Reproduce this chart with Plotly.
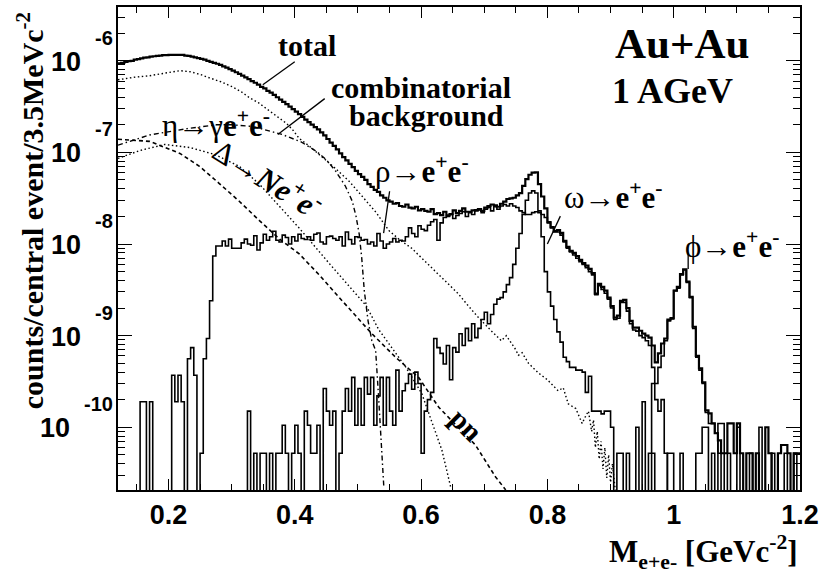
import plotly.graph_objects as go

# ---------------- data ----------------
bin_width = 0.005
mass_min, mass_max = 0.12, 1.2
log_min, log_max = -10.685, -5.413

total_start = 0.12
total = [
    9.4e-7, 9.5e-7, 9.7e-7, 9.9e-7, 1.0e-6, 1.03e-6, 1.04e-6, 1.06e-6, 1.08e-6, 1.09e-6,
    1.11e-6, 1.12e-6, 1.13e-6, 1.14e-6, 1.15e-6, 1.15e-6, 1.16e-6, 1.16e-6, 1.16e-6, 1.16e-6,
    1.16e-6, 1.14e-6, 1.13e-6, 1.11e-6, 1.09e-6, 1.07e-6, 1.05e-6, 1.03e-6, 1.0e-6, 9.75e-7,
    9.5e-7, 9.28e-7, 9.0e-7, 8.7e-7, 8.4e-7, 8.1e-7, 7.8e-7, 7.5e-7, 7.2e-7, 6.9e-7,
    6.6e-7, 6.3e-7, 6.0e-7, 5.76e-7, 5.5e-7, 5.2e-7, 5.0e-7, 4.7e-7, 4.5e-7, 4.25e-7,
    4.0e-7, 3.77e-7, 3.56e-7, 3.36e-7, 3.16e-7, 2.97e-7, 2.79e-7, 2.61e-7, 2.44e-7, 2.28e-7,
    2.14e-7, 2.01e-7, 1.89e-7, 1.78e-7, 1.65e-7, 1.53e-7, 1.4e-7, 1.28e-7, 1.18e-7, 1.08e-7,
    9.75e-8, 8.9e-8, 8.2e-8, 7.5e-8, 6.9e-8, 6.3e-8, 5.8e-8, 5.4e-8, 5.0e-8, 4.5e-8,
    4.2e-8, 3.9e-8, 3.7e-8, 3.4e-8, 3.2e-8, 3.0e-8, 2.9e-8, 2.75e-8, 2.8e-8, 2.6e-8,
    2.55e-8, 2.7e-8, 2.5e-8, 2.45e-8, 2.55e-8, 2.33e-8, 2.4e-8, 2.3e-8, 2.25e-8, 2.4e-8,
    2.12e-8, 2.17e-8, 2.07e-8, 2.25e-8, 2.05e-8, 2.12e-8, 2.33e-8, 2.17e-8, 2.3e-8, 2.45e-8,
    2.25e-8, 2.25e-8, 2.33e-8, 2.35e-8, 2.4e-8, 2.3e-8, 2.5e-8, 2.6e-8, 2.7e-8, 2.65e-8,
    2.55e-8, 2.75e-8, 2.9e-8, 3.1e-8, 3.15e-8, 3.2e-8, 3.4e-8, 3.6e-8, 4.3e-8, 5.1e-8,
    5.7e-8, 6.0e-8, 6.06e-8, 4.5e-8, 3.3e-8, 2.45e-8, 1.73e-8, 1.53e-8, 1.38e-8, 1.42e-8,
    1.32e-8, 1.08e-8, 9.3e-9, 8.4e-9, 8.0e-9, 7.4e-9, 6.7e-9, 6.2e-9, 5.8e-9, 5.35e-9,
    4.8e-9, 2.87e-9, 3.67e-9, 3.4e-9, 3.1e-9, 2.6e-9, 2.1e-9, 1.57e-9, 1.65e-9, 2.4e-9,
    2.45e-9, 2.0e-9, 1.45e-9, 1.22e-9, 1.22e-9, 1.13e-9, 1.05e-9, 1.0e-9, 9.5e-10, 7.8e-10,
    5.1e-10, 6.4e-10, 8.2e-10, 9.3e-10, 1.5e-9, 1.55e-9, 3.1e-9, 3.4e-9, 4.7e-9, 5.3e-9,
    3.9e-9, 2.65e-9, 1.25e-9, 6.0e-10, 4.4e-10, 3.1e-10, 1.53e-10, 1.42e-10, 1.1e-10, 8.6e-11,
    7.2e-11, 5.2e-11, 5.2e-11, 1.1e-10, 1.1e-10, 5.2e-11, 1.1e-10, 5.2e-11, 0, 5.2e-11,
    5.2e-11, 0, 5.2e-11, 0, 0, 1.0e-10, 5.2e-11, 0, 0, 5.2e-11,
    6.4e-11, 6.4e-11, 5.2e-11, 0, 5.2e-11, 5.2e-11,
]

rho_start = 0.12
rho = [
    0, 0, 0, 0, 0, 0, 0, 1.9e-10, 1.9e-10, 0,
    1.9e-10, 0, 0, 0, 0, 0, 0, 3.7e-10, 1.9e-10, 3.7e-10,
    1.9e-10, 0, 5.6e-10, 7.4e-10, 3.7e-10, 0, 5.2e-11, 5.6e-10, 9.3e-10, 2.4e-9,
    7.4e-9, 9.5e-9, 9.5e-9, 1.08e-8, 9.5e-9, 1.13e-8, 9.0e-9, 9.0e-9, 9.0e-9, 1.03e-8,
    1.13e-8, 1.0e-8, 9.7e-9, 1.23e-8, 8.6e-9, 1.03e-8, 1.28e-8, 1.1e-8, 1.2e-8, 1.38e-8,
    1.1e-8, 1.05e-8, 1.25e-8, 1.18e-8, 1.0e-8, 1.2e-8, 1.08e-8, 1.28e-8, 1.15e-8, 1.12e-8,
    1.2e-8, 1.1e-8, 1.28e-8, 1.32e-8, 1.05e-8, 1.0e-8, 1.2e-8, 1.22e-8, 1.15e-8, 1.1e-8,
    1.2e-8, 9.5e-9, 1.35e-8, 1.12e-8, 1.0e-8, 1.2e-8, 1.18e-8, 1.1e-8, 1.12e-8, 1.0e-8,
    1.05e-8, 9.5e-9, 1.3e-8, 1.08e-8, 9.0e-9, 1.0e-8, 1.05e-8, 1.15e-8, 1.05e-8, 1.1e-8,
    1.08e-8, 1.2e-8, 1.5e-8, 1.3e-8, 1.2e-8, 1.58e-8, 1.45e-8, 1.4e-8, 1.6e-8, 1.75e-8,
    1.85e-8, 1.1e-8, 1.7e-8, 1.95e-8, 2.0e-8, 2.1e-8, 1.9e-8, 2.05e-8, 2.15e-8, 2.25e-8,
    2.0e-8, 2.2e-8, 2.1e-8, 2.3e-8, 2.35e-8, 2.2e-8, 2.4e-8, 2.5e-8, 2.3e-8, 2.55e-8,
    2.4e-8, 2.6e-8, 2.7e-8, 2.6e-8, 2.75e-8, 2.6e-8, 2.5e-8, 2.3e-8, 2.2e-8, 2.1e-8,
    2.1e-8, 2.2e-8, 2.25e-8, 2.2e-8, 2.1e-8, 1.95e-8, 1.7e-8, 1.5e-8, 1.35e-8, 1.35e-8,
    1.25e-8, 1.05e-8, 9.0e-9, 8.2e-9, 7.6e-9, 7.0e-9, 6.4e-9, 6.0e-9, 5.5e-9, 5.0e-9,
    4.6e-9, 2.8e-9, 3.5e-9, 3.2e-9, 2.9e-9, 2.5e-9, 2.0e-9, 1.5e-9, 1.55e-9, 2.3e-9,
    2.3e-9, 1.85e-9, 1.35e-9, 1.15e-9, 1.12e-9, 1.0e-9, 9.5e-10, 8.8e-10, 7.8e-10, 4.5e-10,
    2.0e-10, 1.5e-10, 2.0e-10, 5.2e-11, 0,
]

omega_start = 0.32
omega = [
    0, 1.5e-10, 0, 5.2e-11, 0, 5.2e-11, 5.2e-11, 0, 5.2e-11, 0,
    5.2e-11, 5.2e-11, 1.05e-10, 5.2e-11, 0, 5.2e-11, 1.05e-10, 5.2e-11, 0, 1.5e-10,
    1.05e-10, 5.2e-11, 5.2e-11, 1.05e-10, 0, 2.65e-10, 1.5e-10, 1.05e-10, 1.5e-10, 0,
    5.2e-11, 1.5e-10, 2.65e-10, 1.5e-10, 3.5e-10, 1.05e-10, 2.65e-10, 1.05e-10, 3.5e-10, 2.3e-10,
    3.5e-10, 1.05e-10, 2.2e-10, 3.5e-10, 1.05e-10, 3.5e-10, 1.5e-10, 1.05e-10, 4.2e-10, 1.5e-10,
    2.5e-10, 3.0e-10, 3.8e-10, 2.6e-10, 4.0e-10, 3.0e-10, 5.2e-11, 1.5e-10, 2.0e-10, 2.4e-10,
    9.3e-10, 7.4e-10, 6.4e-10, 4.9e-10, 7.8e-10, 3.3e-10, 7.4e-10, 6.6e-10, 1.05e-9, 7.8e-10,
    1.2e-9, 8.8e-10, 1.35e-9, 9.5e-10, 1.2e-9, 1.5e-9, 1.8e-9, 1.35e-9, 1.7e-9, 2.2e-9,
    2.5e-9, 2.6e-9, 3.0e-9, 3.6e-9, 4.3e-9, 6.0e-9, 9.0e-9, 1.3e-8, 2.1e-8, 3.0e-8,
    3.6e-8, 3.8e-8, 3.6e-8, 2.3e-8, 1.2e-8, 5.0e-9, 3.0e-9, 2.1e-9, 1.5e-9, 1.1e-9,
    8.5e-10, 5.8e-10, 5.2e-10, 4.5e-10, 4.5e-10, 4.2e-10, 4.2e-10, 4.0e-10, 2.4e-10, 3.6e-10,
    1.5e-10, 1.5e-10, 1.5e-10, 1.4e-10, 1.5e-10, 1.5e-10, 1.0e-10, 0, 5.2e-11, 5.2e-11,
    0, 5.2e-11, 0, 0, 1.0e-10, 0, 1.9e-10, 0, 5.2e-11, 5.2e-11,
    0, 0, 0, 0, 5.2e-11, 5.2e-11, 0, 0, 5.2e-11, 0,
    0, 0, 0, 5.2e-11, 5.2e-11, 1.0e-10, 1.0e-10, 0, 5.2e-11, 0,
    1.1e-10, 1.1e-10, 0, 5.2e-11, 0, 0, 1.0e-10, 0, 0, 0,
    5.2e-11, 0, 0, 1.0e-10, 0, 0, 0, 5.2e-11, 0, 0,
    0, 5.2e-11, 0, 0, 5.2e-11, 0,
]

phi_start = 0.96
phi = [
    0, 3.0e-10, 3.0e-10, 4.5e-10, 6.0e-10, 8.8e-10, 1.45e-9, 1.52e-9, 3.1e-9, 3.3e-9,
    4.6e-9, 5.2e-9, 3.8e-9, 2.6e-9, 1.2e-9, 5.8e-10, 4.2e-10, 3.0e-10, 1.45e-10, 1.1e-10,
    1.1e-10, 8.6e-11, 5.2e-11, 0,
]

comb_mass = [0.12, 0.145, 0.17, 0.195, 0.218, 0.234, 0.25, 0.265, 0.283, 0.301,
             0.315, 0.328, 0.342, 0.355, 0.371, 0.387, 0.397, 0.407, 0.423, 0.439,
             0.462, 0.486, 0.507, 0.529, 0.549, 0.567, 0.585, 0.605, 0.628, 0.645,
             0.659, 0.675, 0.691, 0.711, 0.727, 0.735, 0.743, 0.750, 0.754, 0.760,
             0.770, 0.786, 0.800, 0.810, 0.817, 0.825, 0.833, 0.845, 0.855, 0.860,
             0.865, 0.870, 0.873, 0.876, 0.879, 0.882, 0.885, 0.888, 0.891, 0.894,
             0.897, 0.900, 0.903, 0.907, 0.912]
comb = [6.2e-7, 6.6e-7, 6.87e-7, 7.4e-7, 7.8e-7, 7.6e-7, 7.1e-7, 6.5e-7, 5.9e-7, 5.2e-7,
        4.6e-7, 3.96e-7, 3.5e-7, 3.0e-7, 2.5e-7, 2.07e-7, 1.75e-7, 1.42e-7, 1.17e-7, 9.5e-8,
        6.9e-8, 4.85e-8, 3.3e-8, 2.2e-8, 1.4e-8, 1.1e-8, 9.0e-9, 6.6e-9, 4.72e-9, 3.6e-9,
        2.86e-9, 2.1e-9, 1.57e-9, 1.13e-9, 8.8e-10, 1.0e-9, 8.2e-10, 7.0e-10, 6.1e-10, 6.5e-10,
        5.0e-10, 3.9e-10, 3.3e-10, 2.8e-10, 2.5e-10, 2.7e-10, 1.8e-10, 1.6e-10, 1.1e-10, 1.3e-10,
        1.5e-10, 9e-11, 1.2e-10, 6e-11, 9e-11, 4.5e-11, 7e-11, 3.5e-11, 6e-11, 2.8e-11,
        5e-11, 2.5e-11, 4e-11, 2.2e-11, 1.5e-11]

eta_mass = [0.12, 0.17, 0.23, 0.276, 0.30, 0.333, 0.38, 0.41, 0.434, 0.45,
            0.465, 0.48, 0.491, 0.497, 0.502, 0.506, 0.510, 0.516, 0.522, 0.528,
            0.533, 0.538, 0.541]
eta = [1.2e-7, 1.55e-7, 1.82e-7, 2.0e-7, 2.0e-7, 1.92e-7, 1.57e-7, 1.3e-7, 1.03e-7, 8.3e-8,
       6.2e-8, 4.3e-8, 2.93e-8, 2.0e-8, 1.28e-8, 7e-9, 3.1e-9, 1.45e-9, 8.8e-10, 6.9e-10,
       1.96e-10, 5.6e-11, 2.2e-11]

delta_mass = [0.12, 0.155, 0.194, 0.234, 0.273, 0.312, 0.344, 0.376, 0.407, 0.454,
              0.486, 0.513, 0.533, 0.576, 0.601, 0.617, 0.633, 0.647]
delta = [8.6e-8, 1.05e-7, 1.22e-7, 1.13e-7, 9.5e-8, 7.05e-8, 4.49e-8, 2.59e-8, 1.49e-8, 6.2e-9,
         3.5e-9, 2.12e-9, 1.16e-9, 4.5e-10, 2.34e-10, 1.16e-10, 5.6e-11, 2.2e-11]

pn_mass = [0.12, 0.17, 0.218, 0.249, 0.28, 0.312, 0.344, 0.376, 0.407, 0.44,
           0.475, 0.522, 0.56, 0.596, 0.628, 0.659, 0.686, 0.718, 0.734]
pn = [1.39e-7, 1.32e-7, 9.75e-8, 7.05e-8, 4.6e-8, 2.93e-8, 1.8e-8, 1.13e-8, 7.8e-9, 4.5e-9,
      2.4e-9, 1.05e-9, 5.77e-10, 3.5e-10, 1.65e-10, 1.0e-10, 6.4e-11, 2.86e-11, 2.07e-11]

x_label_step = 0.2
x_minor_step = 0.05
y_decades = [-6, -7, -8, -9, -10]

# ---------------- drawing ----------------
FLOOR = 1e-13  # empty bins fall below the frame, like ROOT
SERIF = "Liberation Serif, Times New Roman, serif"
SANS = "Liberation Sans, Arial, sans-serif"

W, H = 824, 574
ML, MR, MT, MB = 118, 23, 5, 84
PW, PH = W - ML - MR, H - MT - MB


def px(xp):
    return (xp - ML) / PW


def py(yp):
    return (H - MB - yp) / PH


def hist_trace(start, values, width):
    xs = [start + i * bin_width for i in range(len(values) + 1)]
    ys = [v if v > 0 else FLOOR for v in values]
    ys.append(ys[-1])
    return go.Scatter(x=xs, y=ys, mode="lines", hoverinfo="skip",
                      line=dict(shape="hv", color="black", width=width))


def curve(xs, ys, dash, width):
    return go.Scatter(x=xs, y=ys, mode="lines", hoverinfo="skip",
                      line=dict(color="black", width=width, dash=dash))


fig = go.Figure()
fig.add_trace(curve(comb_mass, comb, "1.5px,2.5px", 1.4))
fig.add_trace(curve(delta_mass, delta, "1.5px,2.5px", 1.4))
fig.add_trace(curve(eta_mass, eta, "5px,3px,1.5px,3px", 1.4))
fig.add_trace(curve(pn_mass, pn, "4px,3px", 1.6))
fig.add_trace(hist_trace(rho_start, rho, 1.6))
fig.add_trace(hist_trace(omega_start, omega, 1.6))
fig.add_trace(hist_trace(phi_start, phi, 1.6))
fig.add_trace(hist_trace(total_start, total, 2.2))

annotations = []
# y tick labels in ROOT style: "10" with a raised exponent
for d in y_decades:
    exp = str(d)
    annotations.append(dict(xref="paper", yref="y", x=px(115), y=d, text="<b>%s</b>" % exp,
                            xanchor="right", yanchor="middle", yshift=23, showarrow=False,
                            font=dict(family=SANS, size=20, color="black")))
    ten_right = 115 - (11 * len(exp) - 1) - 11
    annotations.append(dict(xref="paper", yref="y", x=px(ten_right), y=d, text="<b>10</b>",
                            xanchor="right", yanchor="middle", yshift=-1, showarrow=False,
                            font=dict(family=SANS, size=27, color="black")))

labels = [
    ("<b>total</b>", 307, 44, 30, 0),
    ("<b>combinatorial</b>", 421, 86, 30, 0),
    ("<b>background</b>", 427, 114, 30, 0),
    ("<b>Au+Au</b>", 683, 42, 43, 0),
    ("<b>1 AGeV</b>", 673, 89, 36, 0),
    ("η→γ<b>e<sup>+</sup>e<sup>-</sup></b>", 216, 122, 31, 0),
    ("Δ→<b><i>Ne</i><sup>+</sup><i>e</i><sup>-</sup></b>", 268, 176, 31, 32),
    ("ρ→<b>e<sup>+</sup>e<sup>-</sup></b>", 422, 168, 31, 0),
    ("ω→<b>e<sup>+</sup>e<sup>-</sup></b>", 614, 194, 31, 0),
    ("ϕ→<b>e<sup>+</sup>e<sup>-</sup></b>", 733, 243, 31, 0),
    ("<b>pn</b>", 467, 425, 29, 45),
]
for text, xp, yp, size, ang in labels:
    annotations.append(dict(xref="paper", yref="paper", x=px(xp), y=py(yp), text=text,
                            xanchor="center", yanchor="middle", textangle=ang, showarrow=False,
                            font=dict(family=SERIF, size=size, color="black")))

# axis titles
annotations.append(dict(xref="paper", yref="paper", x=px(30), y=py(210),
                        text="<b>counts/central event/3.5MeVc<sup>-2</sup></b>", textangle=-90,
                        xanchor="center", yanchor="middle", showarrow=False,
                        font=dict(family=SERIF, size=30, color="black")))
annotations.append(dict(xref="paper", yref="paper", x=px(801), y=py(552),
                        text="<b>M<sub>e+e-</sub> [GeVc<sup>-2</sup>]</b>",
                        xanchor="right", yanchor="middle", showarrow=False,
                        font=dict(family=SERIF, size=31, color="black")))

pointers = [((263, 83), (295, 60)), ((278, 133), (325, 97)), ((384, 232), (390, 190)),
            ((548, 243), (561, 215)), ((689, 252), (689, 268))]
shapes = [dict(type="line", xref="paper", yref="paper", x0=px(a[0]), y0=py(a[1]),
               x1=px(b[0]), y1=py(b[1]), line=dict(color="black", width=1.3))
          for a, b in pointers]

fig.update_layout(
    width=W, height=H, margin=dict(l=ML, r=MR, t=MT, b=MB),
    paper_bgcolor="white", plot_bgcolor="white", showlegend=False,
    annotations=annotations, shapes=shapes,
)
fig.update_xaxes(
    range=[mass_min, mass_max], showgrid=False, zeroline=False,
    showline=True, linecolor="black", linewidth=2, mirror="allticks",
    ticks="inside", ticklen=11, tickwidth=1.2, tickcolor="black",
    tick0=0, dtick=x_label_step,
    tickfont=dict(family=SANS, size=27, color="black", weight="bold"),
    ticklabelstandoff=0,
    minor=dict(tick0=0, dtick=x_minor_step, ticks="inside", ticklen=6,
               tickwidth=1.2, tickcolor="black"),
)
fig.update_yaxes(
    type="log", range=[log_min, log_max], showgrid=False, zeroline=False,
    showline=True, linecolor="black", linewidth=2, mirror="allticks",
    ticks="inside", ticklen=14, tickwidth=1.2, tickcolor="black",
    dtick=1, showticklabels=False,
    minor=dict(dtick="D1", ticks="inside", ticklen=7, tickwidth=1.2, tickcolor="black"),
)

fig.write_html("out.html", config={"displayModeBar": False},
               post_script="document.body.style.margin='0';")
